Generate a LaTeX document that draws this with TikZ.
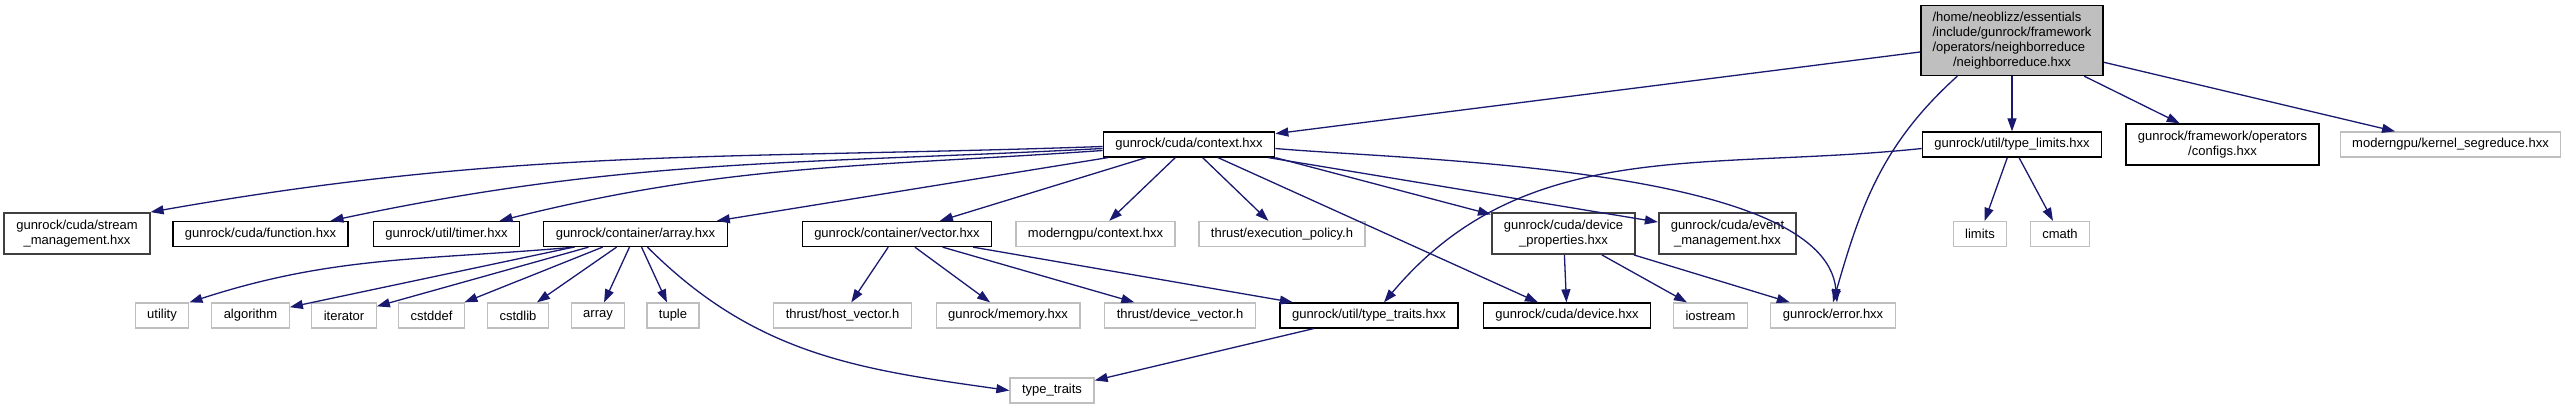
\documentclass[tikz,border=0pt]{standalone}
\usepackage{fontspec}
\setmainfont{Liberation Sans}
\usepackage{xcolor}
\usepackage{tikz}
\usetikzlibrary{arrows.meta, positioning}
\definecolor{incedge}{HTML}{191970}
\definecolor{incgray}{HTML}{BFBFBF}
\definecolor{incdark}{HTML}{404040}
\tikzset{
  file/.style={draw=black, line width=1.3pt, fill=white, align=center,
               font=\fontsize{13}{15}\selectfont, inner xsep=12pt, inner ysep=2pt,
               minimum height=25pt},
  docfile/.style={file},
  extfile/.style={file, draw=incgray},
  twoline/.style={minimum height=41pt},
  softfile/.style={file, twoline, draw=incdark, line width=1.8pt},
  rootfile/.style={file, fill=incgray, minimum height=70pt, text width=159pt,
                   align=left, inner xsep=11.5pt},
  inc/.style={-{Triangle[length=13pt,width=9pt]}, line width=1.3pt, draw=incedge},
}

\begin{document}
\begin{tikzpicture}[x=1pt, y=-1pt]
  \fill[white, use as bounding box] (0,0) rectangle (2565,409);
  % root file
  \node[rootfile] (root) at (2012,40.5)
    {/home/neoblizz/essentials\\ /include/gunrock/framework\\ /operators/neighborreduce\\ \hfill/neighborreduce.hxx\hfill\null};
  % first level
  \node[docfile] (ctx) at (1189,144.5) {gunrock/cuda/context.hxx};
  \node[docfile] (tlim) at (2012,144.5) {gunrock/util/type\_limits.hxx};
  \node[docfile, twoline] (cfg) at (2222.5,144.5) {gunrock/framework/operators\\ /configs.hxx};
  \node[extfile] (kseg) at (2450.5,144.5) {moderngpu/kernel\_segreduce.hxx};
  % second level
  \node[softfile] (strm) at (77,233.5) {gunrock/cuda/stream\\ \_management.hxx};
  \node[docfile] (func) at (260.5,234) {gunrock/cuda/function.hxx};
  \node[docfile] (timer) at (446.5,234) {gunrock/util/timer.hxx};
  \node[docfile] (arrh) at (635.5,234) {gunrock/container/array.hxx};
  \node[docfile] (vech) at (897,234) {gunrock/container/vector.hxx};
  \node[extfile] (mgctx) at (1095.5,234) {moderngpu/context.hxx};
  \node[extfile] (xpol) at (1282,234) {thrust/execution\_policy.h};
  \node[softfile] (devprop) at (1563.5,233.5) {gunrock/cuda/device\\ \_properties.hxx};
  \node[softfile] (evmgmt) at (1727.5,233.5) {gunrock/cuda/event\\ \_management.hxx};
  \node[extfile] (lim) at (1980,234) {limits};
  \node[extfile] (cmath) at (2060,234) {cmath};
  % third level
  \node[extfile] (util) at (162,315.5) {utility};
  \node[extfile] (algo) at (250.5,315.5) {algorithm};
  \node[extfile] (iter) at (344,315.5) {iterator};
  \node[extfile] (cstddef) at (431.5,315.5) {cstddef};
  \node[extfile] (cstdlib) at (518,315.5) {cstdlib};
  \node[extfile] (arr) at (598,315.5) {array};
  \node[extfile] (tup) at (673,315.5) {tuple};
  \node[extfile] (hostvec) at (842.5,315.5) {thrust/host\_vector.h};
  \node[extfile] (mem) at (1008,315.5) {gunrock/memory.hxx};
  \node[extfile] (devvec) at (1180,315.5) {thrust/device\_vector.h};
  \node[docfile] (ttrh) at (1369,315.5) {gunrock/util/type\_traits.hxx};
  \node[docfile] (dev) at (1567,315.5) {gunrock/cuda/device.hxx};
  \node[extfile] (iostr) at (1710.5,315.5) {iostream};
  \node[extfile] (err) at (1833,315.5) {gunrock/error.hxx};
  % bottom
  \node[extfile] (ttraits) at (1052,390.5) {type\_traits};
  % root edges
  \draw[inc] (root) -- (ctx);
  \draw[inc] ([xshift=37pt]root.south west) to[out=222,in=74] (err.north);
  \draw[inc] (root) -- (tlim);
  \draw[inc] (root) -- (cfg);
  \draw[inc] (root) -- (kseg);
  % context.hxx edges
  \draw[inc] ([yshift=-2pt]ctx.west) to[out=182,in=10] (strm.north east);
  \draw[inc] ([yshift=-4pt]ctx.west) to[out=183,in=12] ([xshift=70pt]func.north);
  \draw[inc] ([yshift=-6pt]ctx.west) to[out=184,in=14] ([xshift=53pt]timer.north);
  \draw[inc] (ctx) -- (arrh);
  \draw[inc] (ctx) -- (vech);
  \draw[inc] (ctx) -- (mgctx);
  \draw[inc] (ctx) -- (xpol);
  \draw[inc] (ctx.south east) -- (devprop);
  \draw[inc] (ctx) -- (evmgmt);
  \draw[inc] (ctx) -- (dev);
  \draw[inc] ([yshift=-4pt]ctx.east) to[out=-5,in=95,looseness=0.6] ([xshift=4pt]err.north);
  % type_limits edges
  \draw[inc] ([yshift=-4pt]tlim.west) to[out=186,in=50] ([xshift=15pt]ttrh.north);
  \draw[inc] (tlim) -- (lim);
  \draw[inc] (tlim) -- (cmath);
  % array.hxx edges
  \draw[inc] ([xshift=-61pt]arrh.south) to[out=185,in=18] (util.north east);
  \draw[inc] (arrh) -- (algo);
  \draw[inc] (arrh) -- (iter);
  \draw[inc] (arrh) -- (cstddef);
  \draw[inc] (arrh) -- (cstdlib);
  \draw[inc] (arrh) -- (arr);
  \draw[inc] (arrh) -- (tup);
  \draw[inc] ([xshift=12pt]arrh.south) to[out=-45,in=172] (ttraits.west);
  % vector.hxx edges
  \draw[inc] (vech) -- (hostvec);
  \draw[inc] (vech) -- (mem);
  \draw[inc] (vech) -- (devvec);
  \draw[inc] (vech) -- (ttrh);
  % device_properties edges
  \draw[inc] (devprop) -- (dev);
  \draw[inc] (devprop) -- (iostr);
  \draw[inc] (devprop) -- (err);
  % type_traits.hxx edges
  \draw[inc] (ttrh) -- (ttraits);
\end{tikzpicture}
\end{document}
